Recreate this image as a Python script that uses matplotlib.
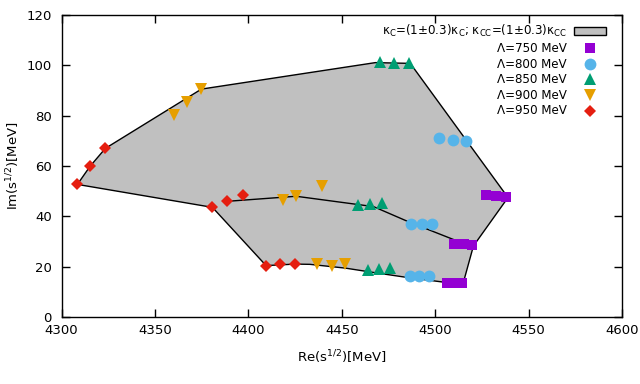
import matplotlib
matplotlib.use("Agg")
import matplotlib.pyplot as plt
from matplotlib.patches import Patch, Polygon
from matplotlib.lines import Line2D

# ---- data ----
lam_labels = ["Λ=750 MeV", "Λ=800 MeV", "Λ=850 MeV", "Λ=900 MeV", "Λ=950 MeV"]
band_label = ("κ$_\\mathregular{C}$=(1±0.3)κ$_\\mathregular{C}$; "
              "κ$_\\mathregular{CC}$=(1±0.3)κ$_\\mathregular{CC}$")

x750 = [4527.0, 4532.7, 4538.1, 4510.2, 4515.2, 4520.0, 4506.3, 4510.8, 4514.4]
y750 = [48.4, 48.0, 47.6, 29.1, 29.1, 28.5, 13.7, 13.7, 13.7]
x800 = [4502.2, 4509.3, 4516.3, 4487.0, 4492.9, 4498.3, 4486.3, 4491.3, 4496.5]
y800 = [71.0, 70.3, 69.9, 36.9, 36.9, 36.9, 16.4, 16.4, 16.4]
x850 = [4470.6, 4478.1, 4485.8, 4458.6, 4464.9, 4471.5, 4463.8, 4469.9, 4475.6]
y850 = [101.3, 101.0, 101.0, 44.5, 45.0, 45.4, 18.8, 19.0, 19.4]
x900 = [4360.4, 4367.2, 4374.9, 4418.3, 4425.6, 4439.2, 4437.0, 4445.0, 4452.0]
y900 = [80.1, 85.3, 90.5, 46.5, 48.2, 52.1, 21.0, 20.5, 21.0]
x950 = [4308.5, 4315.3, 4323.5, 4380.8, 4388.8, 4397.4, 4409.5, 4417.0, 4425.2]
y950 = [52.7, 59.9, 67.0, 43.6, 46.0, 48.5, 20.3, 21.1, 21.1]

# band outline (outer boundary)
band_x = [4308.5, 4315.3, 4323.5, 4374.9, 4468.0, 4486.7, 4539.0, 4520.5, 4515.0,
          4505.0, 4485.0, 4465.0, 4452.0, 4433.0, 4425.0, 4409.5, 4380.8]
band_y = [52.7, 59.9, 67.0, 90.5, 101.0, 100.7, 47.5, 28.3, 13.5,
          13.9, 15.8, 18.0, 19.5, 21.0, 21.1, 20.5, 43.6]
# inner boundary line
mid_x = [4388.8, 4425.6, 4467.0, 4485.7, 4511.7, 4520.5]
mid_y = [46.0, 48.0, 43.9, 37.9, 30.3, 28.3]

xticks = [4300, 4350, 4400, 4450, 4500, 4550, 4600]
yticks = [0, 20, 40, 60, 80, 100, 120]

# ---- figure ----
plt.rcParams['font.family'] = ['DejaVu Sans']
fig = plt.figure(figsize=(6.4, 3.84), dpi=100)
ax = fig.add_axes([0.0961, 0.1737, 0.8757, 0.788])

poly = Polygon(list(zip(band_x, band_y)), closed=True, facecolor="#c0c0c0",
               edgecolor="none", zorder=1)
ax.add_patch(poly)
ax.plot(band_x + [band_x[0]], band_y + [band_y[0]], color="black", lw=1.0, zorder=2)
ax.plot(mid_x, mid_y, color="black", lw=1.0, zorder=2)

series = [
    (x750, y750, "s", "#9400d3", 6.5),
    (x800, y800, "o", "#56b4e9", 8.5),
    (x850, y850, "^", "#009e73", 8.5),
    (x900, y900, "v", "#e69f00", 8.5),
    (x950, y950, "D", "#e51e10", 6.5),
]
handles = [Patch(facecolor="#c0c0c0", edgecolor="black", linewidth=1.0)]
for (xs, ys, m, c, ms), lab in zip(series, lam_labels):
    ax.plot(xs, ys, linestyle="none", marker=m, color=c, markersize=ms,
            markeredgewidth=0, zorder=3)
    handles.append(Line2D([], [], linestyle="none", marker=m, color=c,
                          markersize=ms, markeredgewidth=0))

ax.set_xlim(4300, 4600)
ax.set_ylim(0, 120)
ax.set_xticks(xticks)
ax.set_yticks(yticks)
ax.tick_params(direction="in", top=True, right=True, length=6, width=1,
               labelsize=9.5, pad=5)
ax.tick_params(axis="y", pad=7)
for s in ax.spines.values():
    s.set_linewidth(1.0)

ax.set_xlabel(r"Re(s$^{1/2}$)[MeV]", fontsize=9.5, labelpad=8)
ax.set_ylabel(r"Im(s$^{1/2}$)[MeV]", fontsize=9.5, labelpad=3)

leg = ax.legend(handles, [band_label] + lam_labels, loc="upper right",
                bbox_to_anchor=(0.972, 0.972), markerfirst=False, frameon=False,
                fontsize=8.6, handlelength=2.7, handleheight=0.55, labelspacing=0.22,
                handletextpad=0.6, borderaxespad=0.0, borderpad=0.0)

fig.savefig("out.png", dpi=100)
